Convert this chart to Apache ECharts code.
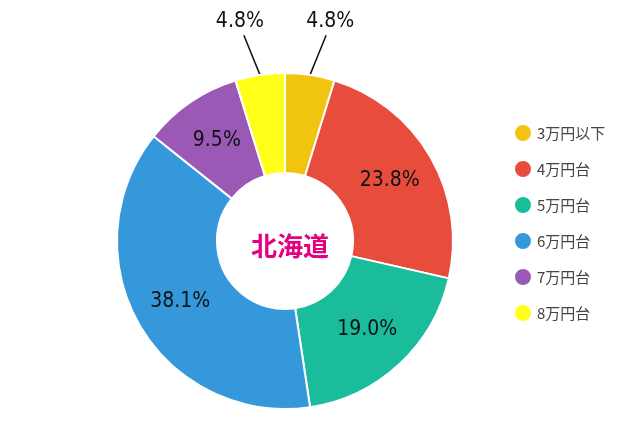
<!DOCTYPE html>
<html>
<head>
<meta charset="utf-8">
<script src="https://cdn.jsdelivr.net/npm/echarts@6/dist/echarts.min.js"></script>
<style>
html,body{margin:0;padding:0;background:#fff;}
#chart{width:640px;height:426px;}
</style>
</head>
<body>
<div id="chart"></div>
<script>
var categories = ['3万円以下', '4万円台', '5万円台', '6万円台', '7万円台', '8万円台'];
var counts = [1, 5, 4, 8, 2, 1];
var centerTitle = '北海道';
var palette = ['#f1c40f', '#e74c3c', '#1abc9c', '#3498db', '#9b59b6', '#ffff1a'];

var total = counts.reduce(function (a, b) { return a + b; }, 0);
var seriesData = categories.map(function (name, i) {
  var item = { name: name, value: counts[i] };
  if (counts[i] / total < 0.07) {
    item.label = { position: 'outside' };
    item.labelLine = { show: true };
  }
  return item;
});

var chart = echarts.init(document.getElementById('chart'));
chart.setOption({
  animation: false,
  color: palette,
  title: {
    text: centerTitle,
    left: 285,
    top: 241,
    textAlign: 'center',
    textVerticalAlign: 'middle',
    textStyle: {
      color: '#e4007f',
      fontSize: 26,
      fontWeight: 'bold',
      fontFamily: '"Noto Sans CJK JP", sans-serif'
    }
  },
  legend: {
    orient: 'vertical',
    left: 508,
    top: 117,
    icon: 'circle',
    itemWidth: 18,
    itemHeight: 18,
    itemGap: 14,
    data: categories,
    textStyle: {
      color: '#444',
      fontSize: 15,
      lineHeight: 22,
      fontFamily: '"Noto Sans CJK JP", Roboto, sans-serif'
    }
  },
  series: [{
    type: 'pie',
    center: [285, 241],
    radius: [68, 168],
    startAngle: 90,
    clockwise: true,
    percentPrecision: 1,
    itemStyle: { borderColor: '#fff', borderWidth: 2 },
    label: {
      show: true,
      position: 'inside',
      color: '#111',
      fontSize: 21,
      fontFamily: '"DejaVu Sans Condensed", "DejaVu Sans", sans-serif',
      formatter: function (p) { return p.percent.toFixed(1) + '%'; }
    },
    labelLine: {
      show: false,
      length: 40,
      length2: 0,
      smooth: false,
      lineStyle: { color: '#111', width: 1.5 }
    },
    labelLayout: function (params) {
      var pts = params.labelLinePoints;
      if (!pts) { return {}; }
      var sx = pts[0][0], sy = pts[0][1];
      var ex = sx + (pts[1][0] - sx) * 2.7;
      var ey = pts[1][1];
      var dir = ex > sx ? 1 : -1;
      return {
        x: ex + dir * 4,
        y: ey - 3,
        align: 'center',
        verticalAlign: 'bottom',
        labelLinePoints: [[sx, sy], [ex, ey], [ex, ey]]
      };
    },
    data: seriesData
  }]
});
</script>
</body>
</html>
